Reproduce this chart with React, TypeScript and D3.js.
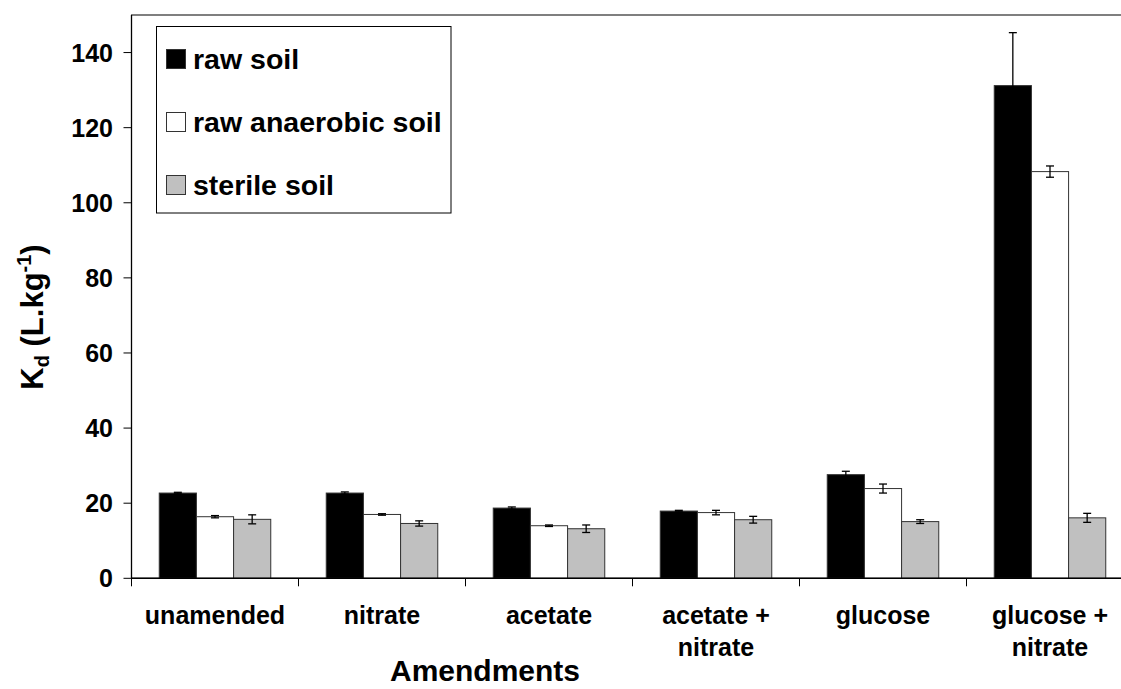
import React from "react";
import * as d3 from "d3";

// Amendment treatments (x categories); "\n" splits the label onto two lines
const categories = [
  "unamended",
  "nitrate",
  "acetate",
  "acetate +\nnitrate",
  "glucose",
  "glucose +\nnitrate",
];

const seriesNames = ["raw soil", "raw anaerobic soil", "sterile soil"];
const seriesFills = ["#000000", "#ffffff", "#c0c0c0"];

// Kd (L/kg) means per treatment
const rawSoil = [22.7, 22.7, 18.7, 17.9, 27.6, 131.2];
const rawAnaerobicSoil = [16.4, 17.0, 14.0, 17.5, 23.9, 108.3];
const sterileSoil = [15.7, 14.6, 13.2, 15.6, 15.1, 16.1];

// error bar half-widths
const rawSoilErr = [0.2, 0.3, 0.3, 0.2, 0.9, 14.1];
const rawAnaerobicSoilErr = [0.3, 0.2, 0.2, 0.6, 1.2, 1.5];
const sterileSoilErr = [1.2, 0.7, 1.0, 0.9, 0.5, 1.2];

const yTicks = [0, 20, 40, 60, 80, 100, 120, 140];

const W = 1121;
const H = 689;
const FONT = "'Liberation Sans', Arial, Helvetica, sans-serif";

export default function App() {
  const left = 131.5;
  const bandW = 167;
  const top = 15;
  const bottom = 578.3;

  const values = [rawSoil, rawAnaerobicSoil, sterileSoil];
  const errors = [rawSoilErr, rawAnaerobicSoilErr, sterileSoilErr];

  const x = d3
    .scaleBand<string>()
    .domain(categories)
    .range([left, left + bandW * categories.length])
    .padding(0);

  const gap = 55.5;
  const xs = d3
    .scaleBand<string>()
    .domain(seriesNames)
    .range([gap / 2, x.bandwidth() - gap / 2])
    .padding(0);

  const y = d3.scaleLinear().domain([0, 150]).range([bottom, top]);
  const plotRight = left + bandW * categories.length;

  return (
    <svg
      width={W}
      height={H}
      style={{ position: "absolute", left: 0, top: 0, background: "#fff" }}
      fontFamily={FONT}
      fontWeight="bold"
    >
      <rect x={0} y={0} width={W} height={H} fill="#fff" />
      {/* plot frame */}
      <rect
        x={left}
        y={y(150)}
        width={plotRight - left}
        height={bottom - y(150)}
        fill="none"
        stroke="#000"
        strokeWidth={1}
      />

      {/* bars */}
      {categories.map((c, ci) =>
        seriesNames.map((s, si) => {
          const v = values[si][ci];
          const bx = (x(c) as number) + (xs(s) as number);
          return (
            <rect
              key={`${c}-${s}`}
              x={bx}
              y={y(v)}
              width={xs.bandwidth()}
              height={bottom - y(v)}
              fill={seriesFills[si]}
              stroke="#333"
              strokeWidth={1}
            />
          );
        })
      )}

      {/* error bars */}
      {categories.map((c, ci) =>
        seriesNames.map((s, si) => {
          const v = values[si][ci];
          const e = errors[si][ci];
          const cx = (x(c) as number) + (xs(s) as number) + xs.bandwidth() / 2;
          const y1 = y(v + e);
          const y2 = y(v - e);
          return (
            <g key={`e-${c}-${s}`} stroke="#000" strokeWidth={1.3}>
              <line x1={cx} x2={cx} y1={y1} y2={y2} />
              <line x1={cx - 4} x2={cx + 4} y1={y1} y2={y1} />
              <line x1={cx - 4} x2={cx + 4} y1={y2} y2={y2} />
            </g>
          );
        })
      )}

      {/* y axis */}
      <line x1={left} x2={left} y1={y(150)} y2={bottom} stroke="#000" strokeWidth={1.3} />
      {yTicks.map((t) => (
        <g key={`yt-${t}`}>
          <line x1={left - 8} x2={left} y1={y(t)} y2={y(t)} stroke="#000" strokeWidth={1} />
          <text
            x={113}
            y={y(t)}
            dy="0.36em"
            textAnchor="end"
            fontSize={25}
            fill="#000"
          >
            {t}
          </text>
        </g>
      ))}

      {/* x axis */}
      <line x1={left} x2={plotRight} y1={bottom} y2={bottom} stroke="#000" strokeWidth={1.5} />
      {d3.range(categories.length + 1).map((i) => (
        <line
          key={`xt-${i}`}
          x1={left + i * bandW}
          x2={left + i * bandW}
          y1={bottom}
          y2={bottom + 8}
          stroke="#000"
          strokeWidth={1}
        />
      ))}
      {categories.map((c) => {
        const cx = (x(c) as number) + x.bandwidth() / 2;
        return (
          <text key={`xl-${c}`} textAnchor="middle" fontSize={25} fill="#000">
            {c.split("\n").map((line, li) => (
              <tspan key={li} x={cx} y={624 + li * 32}>
                {line}
              </tspan>
            ))}
          </text>
        );
      })}

      {/* axis titles */}
      <text x={485} y={681} textAnchor="middle" fontSize={30} fill="#000">
        Amendments
      </text>
      <text
        transform="translate(43,317) rotate(-90)"
        textAnchor="middle"
        fontSize={31}
        fill="#000"
      >
        K
        <tspan fontSize={20} dy={6}>d</tspan>
        <tspan dy={-6}> (L.kg</tspan>
        <tspan fontSize={20} dy={-12}>-1</tspan>
        <tspan dy={12}>)</tspan>
      </text>

      {/* legend */}
      <rect x={156.5} y={26.5} width={294.5} height={186.5} fill="#fff" stroke="#000" strokeWidth={1} />
      {seriesNames.map((s, si) => {
        const cy = 59 + si * 63;
        return (
          <g key={`lg-${s}`}>
            <rect
              x={166.5}
              y={cy - 9.5}
              width={19}
              height={19}
              fill={seriesFills[si]}
              stroke="#333"
              strokeWidth={1}
            />
            <text x={193} y={cy + 9.5} fontSize={28.5} fill="#000">
              {s}
            </text>
          </g>
        );
      })}
    </svg>
  );
}
